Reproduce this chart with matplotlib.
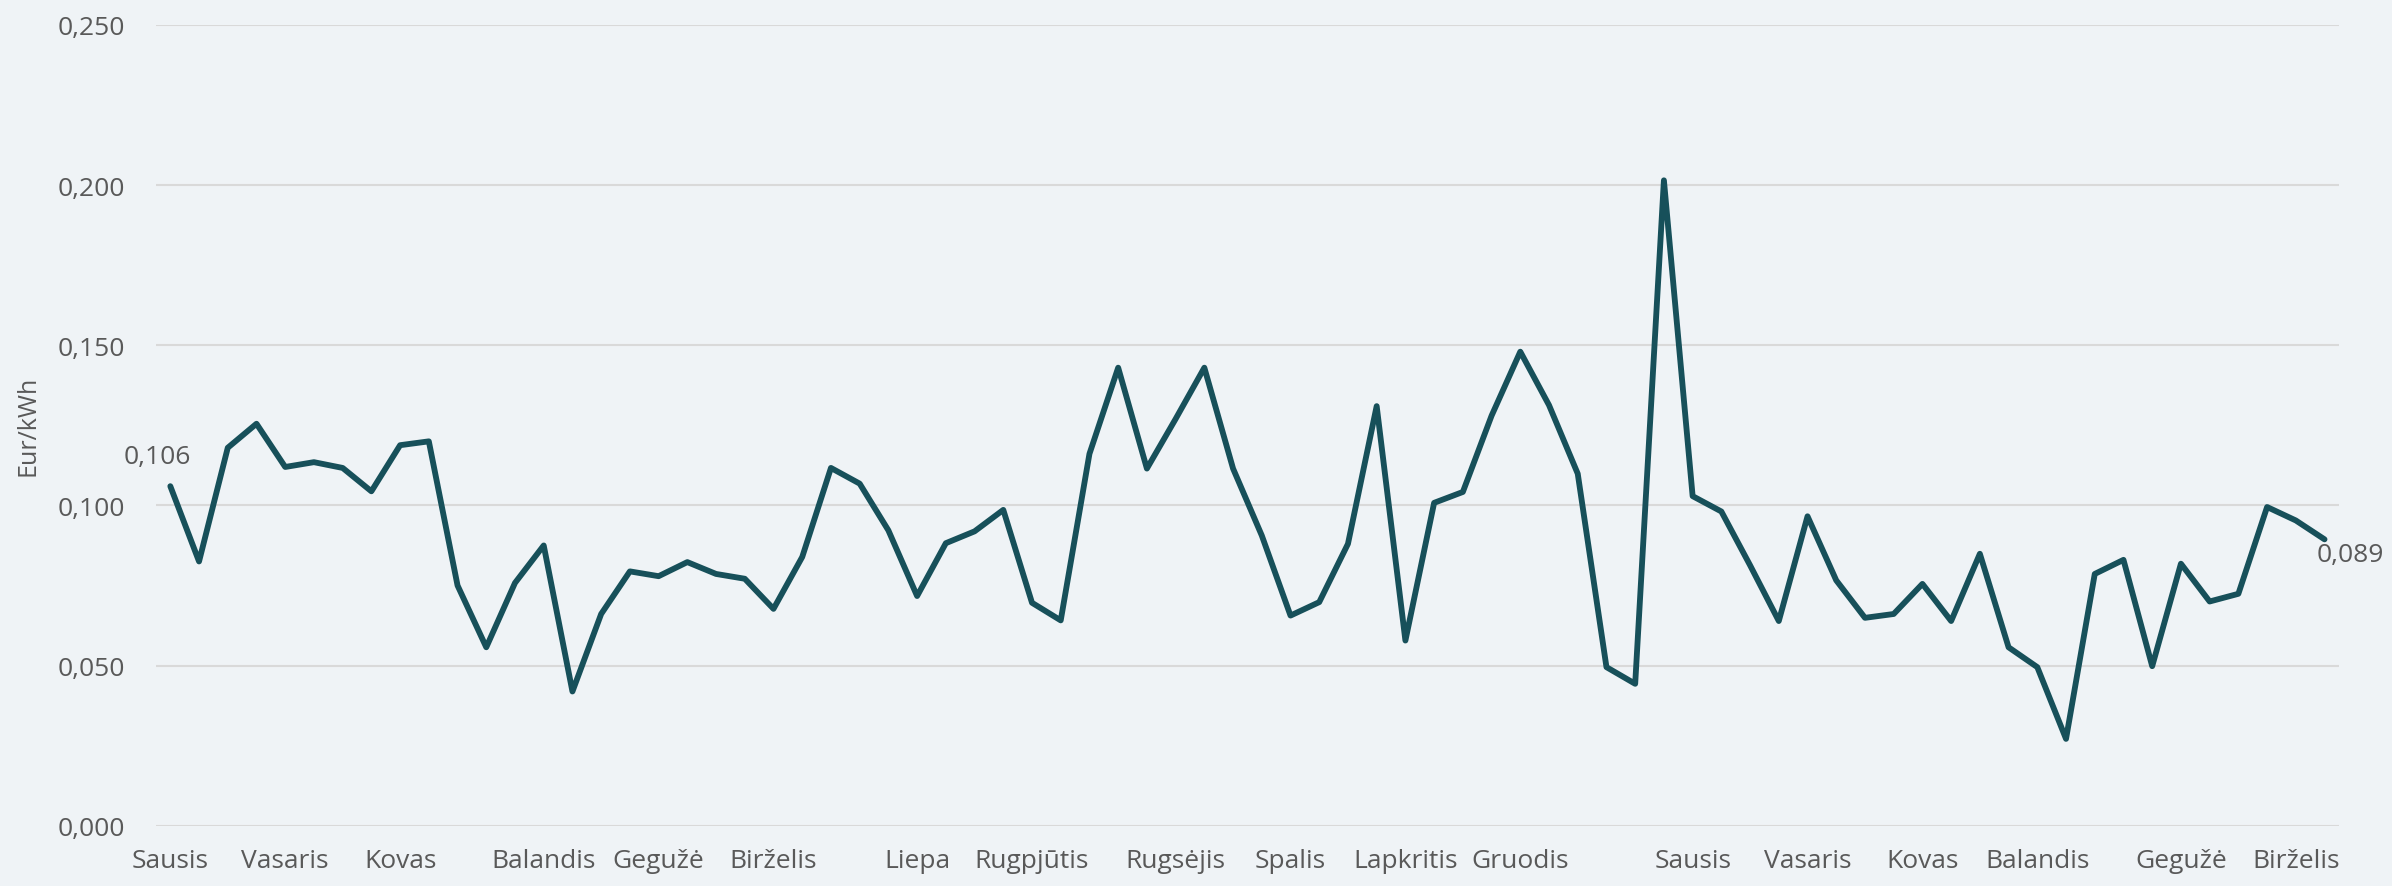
import matplotlib
import matplotlib.pyplot as plt
from matplotlib.ticker import FuncFormatter
matplotlib.use('Agg')

# savaitinės kainos, Eur/kWh
PRICES = [
    0.106, 0.0825, 0.118, 0.1255, 0.112, 0.1135, 0.1117, 0.1044, 0.1188, 0.120,
    0.075, 0.0557, 0.0758, 0.0875, 0.0419, 0.0661, 0.0794, 0.0779, 0.0823, 0.0786,
    0.0771, 0.0677, 0.0839, 0.1117, 0.1068, 0.0922, 0.0717, 0.0882, 0.0919, 0.0986,
    0.0696, 0.0641, 0.1161, 0.143, 0.1115, 0.127, 0.143, 0.1115, 0.0906, 0.0656,
    0.0698, 0.088, 0.131, 0.0578, 0.1008, 0.1042, 0.128, 0.148, 0.1313, 0.1099,
    0.0495, 0.0443, 0.2015, 0.1029, 0.0981, 0.0813, 0.0639, 0.0966, 0.0766, 0.0649,
    0.0661, 0.0755, 0.0639, 0.0849, 0.0557, 0.0495, 0.0271, 0.0786, 0.083, 0.0498,
    0.0818, 0.070, 0.0724, 0.0995, 0.0953, 0.0894,
]
MONTH_POS = [0, 4, 8, 13, 17, 21, 26, 30, 35, 39, 43, 47, 53, 57, 61, 65, 70, 74]
MONTH_NAMES = [
    'Sausis', 'Vasaris', 'Kovas', 'Balandis', 'Gegužė', 'Birželis', 'Liepa',
    'Rugpjūtis', 'Rugsėjis', 'Spalis', 'Lapkritis', 'Gruodis',
    'Sausis', 'Vasaris', 'Kovas', 'Balandis', 'Gegužė', 'Birželis',
]
Y_TICKS = [0.0, 0.05, 0.10, 0.15, 0.20, 0.25]

BG = '#eff3f6'
LINE = '#17505a'
TEXT = '#595959'
GRID = '#d9d9d9'


def comma(value, pos=None):
    ''' skaičius su kableliu '''
    return f'{value:.3f}'.replace('.', ',')


plt.rcParams['font.family'] = ['Open Sans', 'DejaVu Sans']

fig = plt.figure(figsize=(23.92, 8.87), dpi=100, facecolor=BG)
ax = fig.add_axes([0.0652, 0.068, 0.9126, 0.9027], facecolor=BG)

x = list(range(len(PRICES)))
ax.plot(x, PRICES, color=LINE, linewidth=4.2,
        solid_joinstyle='round', solid_capstyle='round', zorder=3)

ax.set_xlim(-0.5, len(PRICES) - 0.5)
ax.set_ylim(0, 0.25)
ax.set_yticks(Y_TICKS)
ax.yaxis.set_major_formatter(FuncFormatter(comma))
ax.set_xticks(MONTH_POS)
ax.set_xticklabels(MONTH_NAMES)
ax.tick_params(axis='both', length=0, labelsize=19, colors=TEXT)
ax.tick_params(axis='y', pad=22)
ax.tick_params(axis='x', pad=16)
ax.grid(axis='y', color=GRID, linewidth=1.5, zorder=0)
for side in ax.spines.values():
    side.set_visible(False)

ax.set_ylabel('Eur/kWh', fontsize=18, color=TEXT)
ax.yaxis.set_label_coords(-0.053, 0.5)

# pirmos ir paskutinės reikšmės etiketės
ax.annotate(comma(PRICES[0]), xy=(0, PRICES[0]), xytext=(-13, 30),
            textcoords='offset pixels', ha='center', va='center',
            fontsize=19, color=TEXT)
ax.annotate(comma(PRICES[-1]), xy=(x[-1], PRICES[-1]), xytext=(-8, -15),
            textcoords='offset pixels', ha='left', va='center',
            fontsize=19, color=TEXT, annotation_clip=False)

fig.savefig('out.png', dpi=100, facecolor=BG)
